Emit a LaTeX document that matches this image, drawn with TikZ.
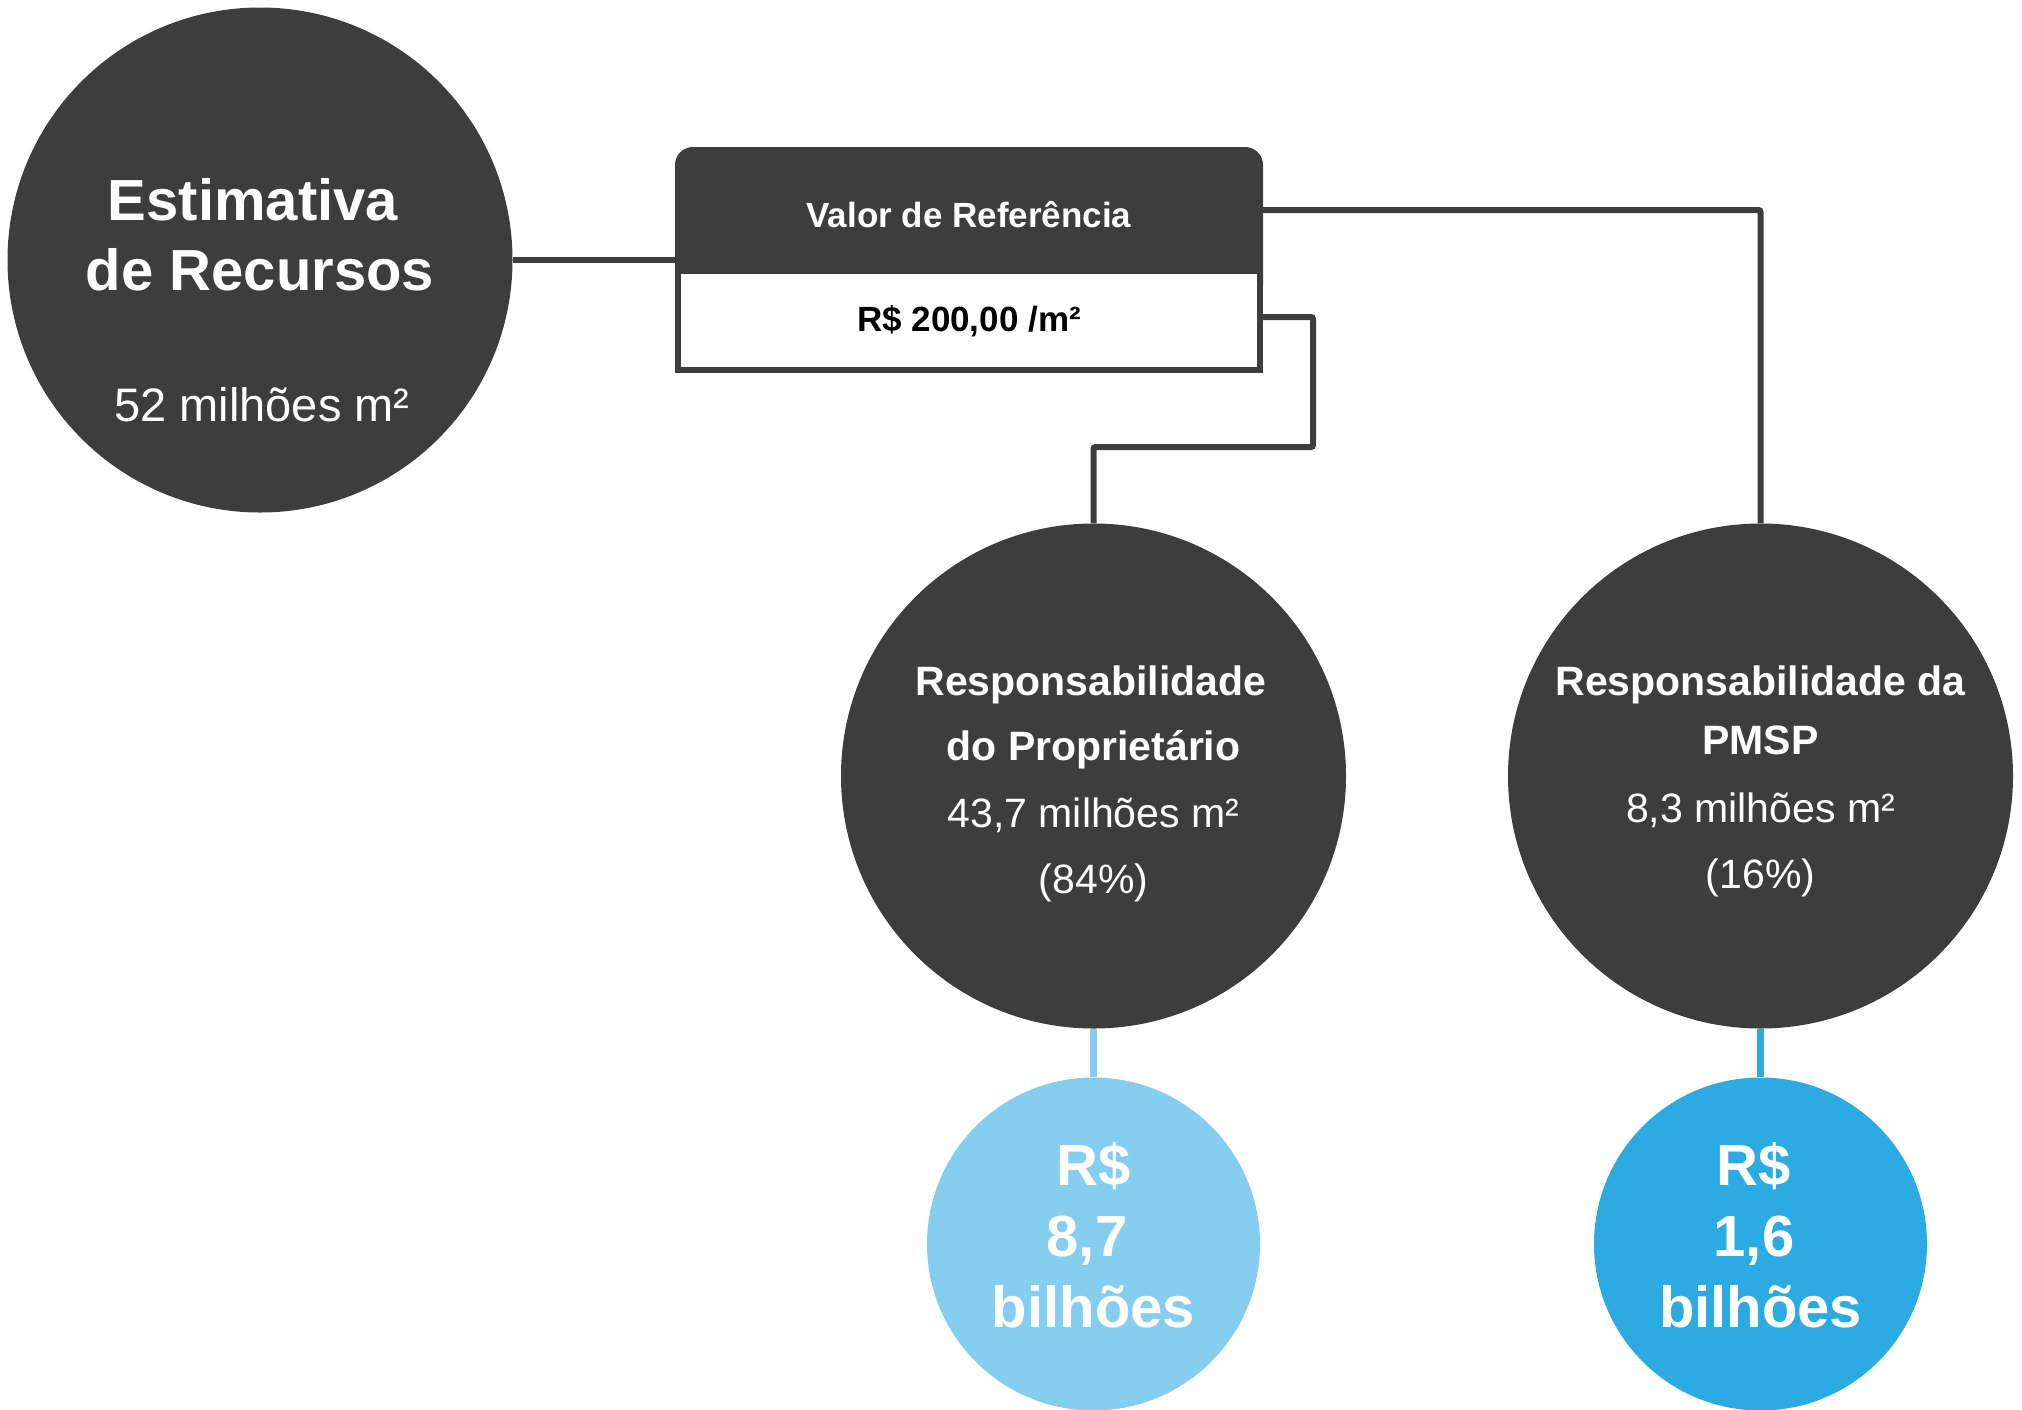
\documentclass[tikz,border=0pt]{standalone}
\usepackage{fontspec}
\setmainfont{Liberation Sans}
\definecolor{dark}{HTML}{3D3D3D}
\definecolor{lblue}{HTML}{86CEF0}
\definecolor{mblue}{HTML}{2BABE1}
\newcommand\fsz[2]{\fontsize{#1}{#2}\selectfont}
\tikzset{
  bigcirc/.style={circle, fill=dark, minimum size=505, inner sep=0},
  smallcirc/.style={circle, minimum size=333, inner sep=0},
  conn/.style={draw=dark, line width=6},
  txt/.style={text=white, anchor=base, inner sep=0},
  boldbig/.style={font=\bfseries\fsz{58}{70}},
  boldmid/.style={font=\bfseries\fsz{41}{49}},
  regmid/.style={font=\fsz{41}{49}},
  boxtxt/.style={font=\bfseries\fsz{35}{42}},
}
\begin{document}
\begin{tikzpicture}[x=1pt,y=-1pt]
\useasboundingbox (0,0) rectangle (2022,1409);
% circles
\node[bigcirc] (est) at (260,260) {};
\node[bigcirc] (prop) at (1093.5,776) {};
\node[bigcirc] (pmsp) at (1760.5,776) {};
\node[smallcirc, fill=lblue] (v1) at (1093.5,1244) {};
\node[smallcirc, fill=mblue] (v2) at (1760.5,1244) {};
% reference box
\node[fill=dark, draw=dark, line width=6, rounded corners=15, minimum width=582, minimum height=150, inner sep=0] (valor) at (969,225) {};
\node[fill=white, draw=dark, line width=6, minimum width=582, minimum height=99, inner sep=0] (valbody) at (969,320.5) {};
% connectors
\coordinate (r1) at (1260,210);
\coordinate (r2) at (1260,317);
\coordinate (k1) at (1313,447);
\draw[conn] (est.east) -- (est.east -| valor.west);
\draw[conn, rounded corners=2] (r1) -| (pmsp.north);
\draw[conn, rounded corners=2] (r2) -| (k1) -| (prop.north);
\draw[draw=lblue, line width=7] (prop.south) -- (v1.north);
\draw[draw=mblue, line width=7] (pmsp.south) -- (v2.north);
% texts
\node[txt, boldbig] (t1) at (253,220) {Estimativa};
\node[txt, boldbig] (t2) at (260,290) {de Recursos};
\node[txt, font=\fsz{47}{56}] (t3) at (262,421) {52 milhões m²};
\node[txt, boxtxt] (t4) at (969,227) {Valor de Referência};
\node[txt, boxtxt, text=black] (t5) at (969,331) {R\$ 200,00 /m²};
\node[txt, boldmid] (p1) at (1091,695) {Responsabilidade};
\node[txt, boldmid] (p2) at (1093.5,760) {do Proprietário};
\node[txt, regmid] (p3) at (1093.5,827) {43,7 milhões m²};
\node[txt, regmid] (p4) at (1093.5,893) {(84\%)};
\node[txt, boldmid] (q1) at (1760.5,695) {Responsabilidade da};
\node[txt, boldmid] (q2) at (1760.5,754) {PMSP};
\node[txt, regmid] (q3) at (1760.5,822) {8,3 milhões m²};
\node[txt, regmid] (q4) at (1760.5,888) {(16\%)};
\node[txt, boldbig] (a1) at (1093.5,1185) {R\$};
\node[txt, boldbig] (a2) at (1087,1256) {8,7};
\node[txt, boldbig] (a3) at (1093.5,1327) {bilhões};
\node[txt, boldbig] (b1) at (1754,1185) {R\$};
\node[txt, boldbig] (b2) at (1754,1256) {1,6};
\node[txt, boldbig] (b3) at (1760.5,1327) {bilhões};
\end{tikzpicture}
\end{document}
